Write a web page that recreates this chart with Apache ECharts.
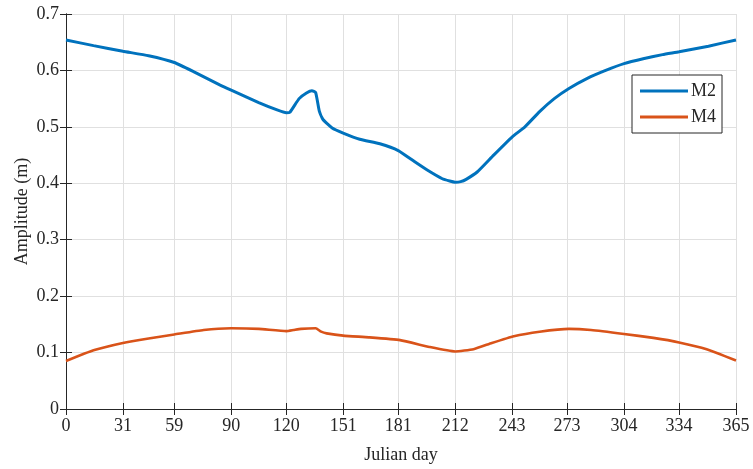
<!DOCTYPE html>
<html>
<head>
<meta charset="utf-8">
<script src="https://cdn.jsdelivr.net/npm/echarts@6/dist/echarts.min.js"></script>
<style>
  html, body { margin: 0; padding: 0; background: #fff; }
  #chart { width: 753px; height: 469px; }
</style>
</head>
<body>
<div id="chart"></div>
<script>
// Month-start day numbers used as x ticks
const monthTicks = [0, 31, 59, 90, 120, 151, 181, 212, 243, 273, 304, 334, 365];

// M2 amplitude (m) against Julian day
const m2Days = [0, 15, 31, 45, 59, 70, 84, 90, 105, 115, 120, 122, 127, 131, 134, 136, 138, 140, 145, 151, 160, 171, 181, 190, 197, 205, 209, 212, 215, 218, 224, 233, 243, 250, 258, 266, 274, 284, 294, 304, 315, 325, 334, 350, 365];
const m2Amp = [0.654, 0.644, 0.634, 0.626, 0.614, 0.597, 0.574, 0.565, 0.543, 0.530, 0.525, 0.526, 0.550, 0.560, 0.564, 0.561, 0.528, 0.513, 0.498, 0.489, 0.478, 0.470, 0.458, 0.438, 0.423, 0.408, 0.404, 0.402, 0.403, 0.407, 0.420, 0.450, 0.482, 0.500, 0.527, 0.550, 0.568, 0.586, 0.600, 0.612, 0.621, 0.628, 0.633, 0.643, 0.654];

// M4 amplitude (m) against Julian day
const m4Days = [0, 15, 31, 45, 59, 75, 90, 105, 120, 124, 128, 136, 139, 142, 151, 165, 182, 198, 212, 222, 232, 244, 258, 274, 286, 304, 320, 334, 349, 365];
const m4Amp = [0.085, 0.104, 0.117, 0.125, 0.132, 0.140, 0.143, 0.142, 0.138, 0.140, 0.142, 0.143, 0.137, 0.134, 0.130, 0.127, 0.122, 0.110, 0.102, 0.106, 0.117, 0.129, 0.137, 0.142, 0.140, 0.133, 0.126, 0.118, 0.106, 0.086];

const pairs = (xs, ys) => xs.map((x, i) => [x, ys[i]]);

const FONT = '"Liberation Serif", "Times New Roman", serif';
const AXIS_COLOR = '#262626';
const GRID_COLOR = '#e0e0e0';
// Flat bar used as the legend swatch (plain line sample, no marker)
const LINE_ICON = 'path://M0,0 L48,0 L48,3 L0,3 Z';

const chart = echarts.init(document.getElementById('chart'));

const xBase = {
  type: 'value', min: 0, max: 365,
  axisLine: { lineStyle: { color: AXIS_COLOR, width: 1 } },
  axisTick: { inside: true, length: 6, customValues: monthTicks, lineStyle: { color: AXIS_COLOR } },
  axisLabel: { customValues: monthTicks, color: AXIS_COLOR, fontFamily: FONT, fontSize: 18, margin: 8 }
};
const yBase = {
  type: 'value', min: 0, max: 0.7, interval: 0.1,
  axisLine: { show: true, lineStyle: { color: AXIS_COLOR, width: 1 } },
  axisTick: { show: true, inside: true, length: 6, lineStyle: { color: AXIS_COLOR } },
  axisLabel: { color: AXIS_COLOR, fontFamily: FONT, fontSize: 18, margin: 7 }
};

chart.setOption({
  animation: false,
  backgroundColor: '#fff',
  grid: { left: 66, right: 17, top: 14, bottom: 60, containLabel: false },
  legend: {
    orient: 'vertical', left: 632, top: 75,
    icon: LINE_ICON, symbolKeepAspect: true,
    itemWidth: 48, itemHeight: 14, itemGap: 8,
    padding: [7, 6, 7, 8],
    borderColor: AXIS_COLOR, borderWidth: 1, backgroundColor: '#fff',
    textStyle: { fontFamily: FONT, fontSize: 18, color: AXIS_COLOR, padding: [0, 0, 0, -2] },
    data: ['M2', 'M4']
  },
  xAxis: [
    Object.assign({}, xBase, {
      position: 'bottom',
      name: 'Julian day', nameLocation: 'middle', nameGap: 37, nameMoveOverlap: false,
      nameTextStyle: { fontFamily: FONT, fontSize: 18, color: AXIS_COLOR },
      splitLine: { show: true, lineStyle: { color: GRID_COLOR, width: 1 } }
    }),
    Object.assign({}, xBase, {
      position: 'top',
      axisLabel: { show: false },
      splitLine: { show: false }
    })
  ],
  yAxis: [
    Object.assign({}, yBase, {
      position: 'left',
      name: 'Amplitude (m)', nameLocation: 'middle', nameGap: 35, nameMoveOverlap: false,
      nameTextStyle: { fontFamily: FONT, fontSize: 18, color: AXIS_COLOR },
      splitLine: { show: true, lineStyle: { color: GRID_COLOR, width: 1 } }
    }),
    Object.assign({}, yBase, {
      position: 'right',
      axisLabel: { show: false },
      splitLine: { show: false }
    })
  ],
  series: [
    {
      name: 'M2', type: 'line', data: pairs(m2Days, m2Amp),
      symbol: 'none', smooth: 0.15,
      lineStyle: { color: '#0072BD', width: 3 }, itemStyle: { color: '#0072BD' }
    },
    {
      name: 'M4', type: 'line', data: pairs(m4Days, m4Amp),
      symbol: 'none', smooth: 0.15,
      lineStyle: { color: '#D95319', width: 2.6 }, itemStyle: { color: '#D95319' }
    }
  ]
});
</script>
</body>
</html>
